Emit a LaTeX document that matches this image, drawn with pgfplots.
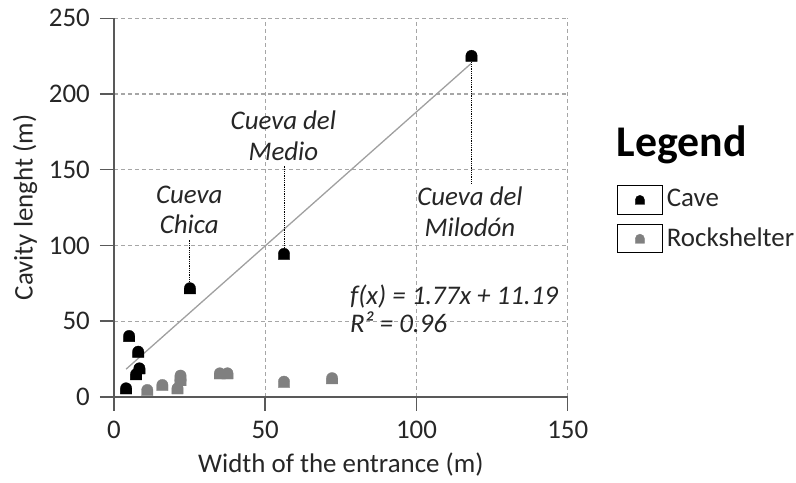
\documentclass[border=0pt]{standalone}
\usepackage{fontspec}
\setmainfont{Carlito}
\usepackage{pgfplots}
\pgfplotsset{compat=1.18}
\definecolor{axisgray}{RGB}{89,89,89}
\definecolor{gridgray}{RGB}{166,166,166}
\definecolor{linegray}{RGB}{160,160,160}
\definecolor{rockgray}{RGB}{128,128,128}
\pgfdeclareplotmark{dome}{%
  \pgfpathmoveto{\pgfqpoint{-\pgfplotmarksize}{-\pgfplotmarksize}}%
  \pgfpathlineto{\pgfqpoint{-\pgfplotmarksize}{0pt}}%
  \pgfpatharc{180}{0}{\pgfplotmarksize}%
  \pgfpathlineto{\pgfqpoint{\pgfplotmarksize}{-\pgfplotmarksize}}%
  \pgfpathclose
  \pgfusepathqfillstroke}
\pgfplotstableread{
x y
4.0 5.6
7.3 14.9
8.4 18.8
8.0 29.8
5.0 40.2
25.1 71.7
56.2 94.4
118.2 225.2
}\cavetable
\pgfplotstableread{
x y
11.0 4.5
16.0 7.8
21.0 5.6
22.0 11.0
22.0 14.0
35.0 15.5
37.5 15.5
56.2 10.0
72.1 12.3
}\rocktable
\begin{document}
\fontsize{27}{31}\selectfont
\begin{tikzpicture}
\begin{axis}[
  name=ax, at={(0,0)}, anchor=south west,
  scale only axis, width=453.7bp, height=378.5bp,
  xmin=0, xmax=150, ymin=0, ymax=250,
  xtick={0,50,100,150}, ytick={0,50,100,150,200,250},
  axis x line*=bottom, axis y line*=left,
  axis line style={color=axisgray, line width=1.5bp},
  tick align=outside, major tick length=14bp,
  tick style={color=axisgray, line width=1.5bp},
  grid=major,
  grid style={color=gridgray, line width=1.2bp, dash pattern=on 4bp off 3bp},
  /pgf/number format/assume math mode=true,
  tick label style={font=\fontsize{27}{31}\selectfont, text=black!85},
  xticklabel style={inner sep=0pt, yshift=-10bp},
  yticklabel style={inner sep=0pt, xshift=-10bp},
  xlabel={Width of the entrance (m)},
  ylabel={Cavity lenght (m)},
  label style={font=\fontsize{27}{31}\selectfont, text=black!85},
  xlabel style={at={(axis description cs:0.5,-0.18)}, anchor=center},
  ylabel style={at={(axis description cs:-0.196,0.5)}, anchor=center},
  clip=false,
  legend style={at={(axis cs:166.2,139.9)}, anchor=north west, draw=none, fill=none,
    inner sep=0pt, row sep=9.4bp, font=\fontsize{27}{31}\selectfont,
    nodes={inner xsep=4bp, inner ysep=0pt, text=black!85}},
  legend cell align=left,
  legend image code/.code={%
    \draw[black, line width=1bp, fill=white, solid] (0bp,-14.2bp) rectangle (45bp,14.2bp);
    \draw[#1, mark size=4.6bp] plot coordinates {(22.5bp,0bp)};},
]
\addplot[linegray, line width=1.3bp, forget plot] coordinates {(4,18.27) (118,220.05)};
\addplot[only marks, mark=dome, mark size=5.7bp, mark options={fill=black, draw=black, line width=0.3bp}] table[x=x,y=y] {\cavetable};
\addlegendentry{Cave}
\addplot[only marks, mark=dome, mark size=5.7bp, mark options={fill=rockgray, draw=rockgray, line width=0.3bp}] table[x=x,y=y] {\rocktable};
\addlegendentry{Rockshelter}
\draw[black, line width=0.9bp, dash pattern=on 1bp off 0.8bp] (axis cs:25.1,76) -- (axis cs:25.1,103.6);
\draw[black, line width=0.9bp, dash pattern=on 1bp off 0.8bp] (axis cs:56.2,98.5) -- (axis cs:56.2,153);
\draw[black, line width=0.9bp, dash pattern=on 1bp off 0.8bp] (axis cs:118.2,221) -- (axis cs:118.2,141);
\node[font=\itshape, align=center, text=black!85] at (axis cs:24.9,123.5) {Cueva\\Chica};
\node[font=\itshape, align=center, text=black!85] at (axis cs:56,172.4) {Cueva del\\Medio};
\node[font=\itshape, align=center, text=black!85] at (axis cs:117.7,122.3) {Cueva del\\Milodón};
\node[font=\itshape, anchor=west, inner sep=0pt, text=black!85] at (axis cs:78,66.5) {f(x) = 1.77x + 11.19};
\node[font=\itshape, anchor=west, inner sep=0pt, text=black!85] at (axis cs:78,49.4) {R² = 0.96};
\node[font=\bfseries\fontsize{44}{48}\selectfont, anchor=base west, inner sep=0pt] at (axis cs:166.2,158.6) {Legend};
\end{axis}
\pgfresetboundingbox
\path[use as bounding box] (-114bp,-86.2bp) rectangle (682bp,396.8bp);
\end{tikzpicture}
\end{document}
